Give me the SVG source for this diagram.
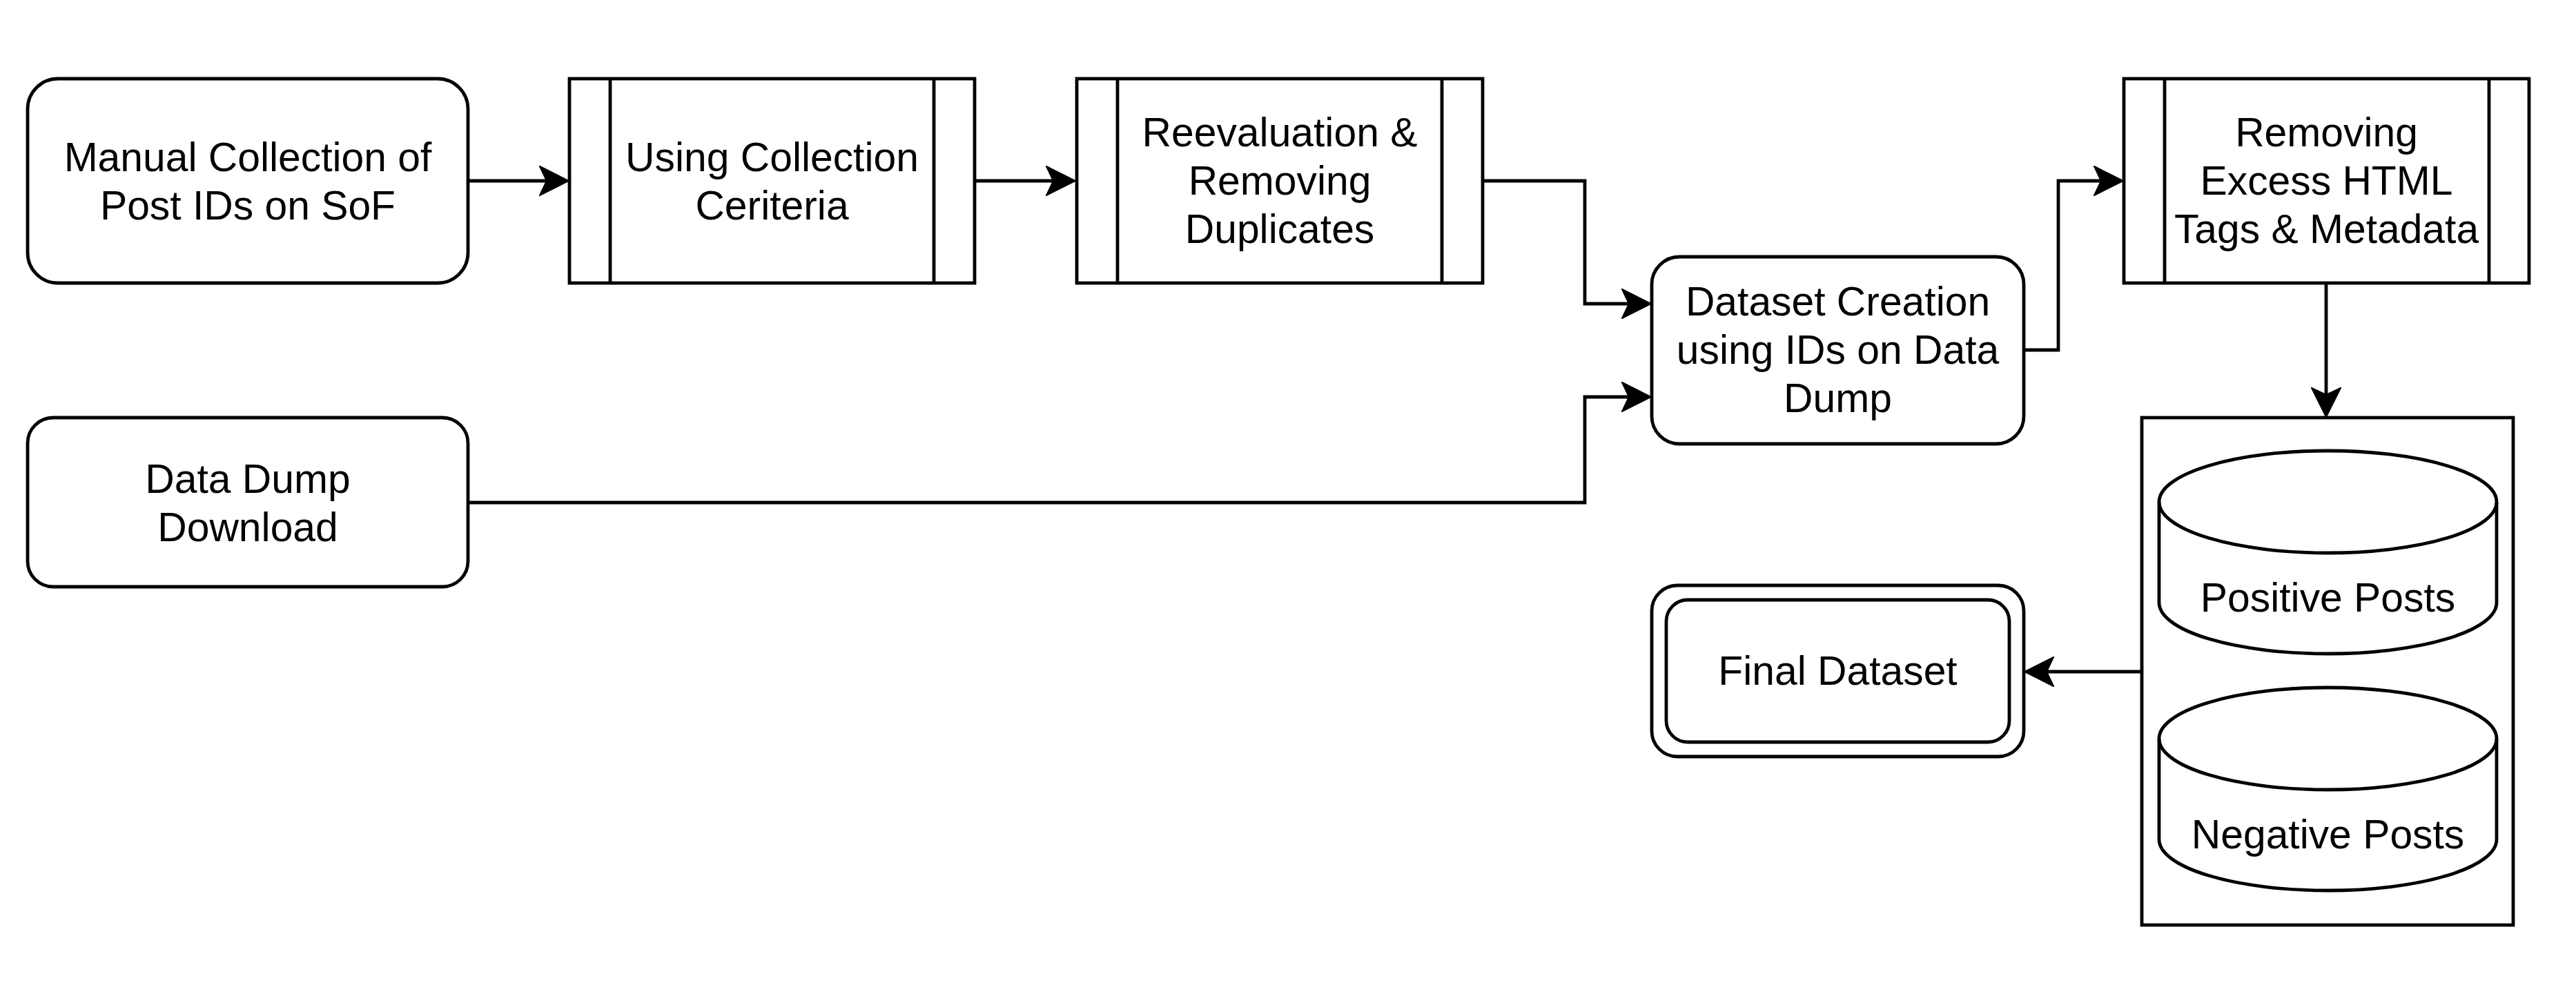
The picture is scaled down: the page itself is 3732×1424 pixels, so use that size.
<svg xmlns="http://www.w3.org/2000/svg" width="3732" height="1424" viewBox="0 0 3732 1424">
<style>
.s{fill:#fff;stroke:#000;stroke-width:4.8}
.l{fill:none;stroke:#000;stroke-width:4.8}
.c{fill:none;stroke:#000;stroke-width:4.8;stroke-linejoin:miter}
text{font-family:"Liberation Sans",Arial,Helvetica,sans-serif;font-size:58.8px;fill:#000;text-anchor:middle}
</style>
<defs>
<marker id="arr" markerUnits="userSpaceOnUse" viewBox="0 0 44 44" refX="11" refY="22" markerWidth="44" markerHeight="44" orient="auto">
<path d="M1,1 L43,22 L1,43 L11,22 Z" fill="#000" stroke="#000" stroke-width="2"/>
</marker>
</defs>
<rect width="3732" height="1424" fill="#fff"/>
<g id="connectors">
<path class="c" d="M678,262 H792" marker-end="url(#arr)"/>
<path class="c" d="M1412,262 H1526" marker-end="url(#arr)"/>
<path class="c" d="M2148,262 H2296 V440 H2360" marker-end="url(#arr)"/>
<path class="c" d="M678,728 H2296 V575 H2360" marker-end="url(#arr)"/>
<path class="c" d="M2932,507 H2982 V262 H3044" marker-end="url(#arr)"/>
<path class="c" d="M3370,410 V572" marker-end="url(#arr)"/>
<path class="c" d="M3103,973 H2965" marker-end="url(#arr)"/>
</g>
<g id="manual">
<rect class="s" x="40" y="114" width="638" height="296" rx="44" ry="44"/>
<text x="359" y="248">Manual Collection of</text>
<text x="359" y="318">Post IDs on SoF</text>
</g>
<g id="criteria">
<rect class="s" x="825" y="114" width="587" height="296"/>
<path class="l" d="M884,114 V410 M1353,114 V410"/>
<text x="1118.5" y="248">Using Collection</text>
<text x="1118.5" y="318">Ceriteria</text>
</g>
<g id="reeval">
<rect class="s" x="1560" y="114" width="588" height="296"/>
<path class="l" d="M1619,114 V410 M2089,114 V410"/>
<text x="1854" y="212">Reevaluation &amp;</text>
<text x="1854" y="282">Removing</text>
<text x="1854" y="352">Duplicates</text>
</g>
<g id="dataset-creation">
<rect class="s" x="2393" y="372" width="539" height="271" rx="40" ry="40"/>
<text x="2662.5" y="457">Dataset Creation</text>
<text x="2662.5" y="527">using IDs on Data</text>
<text x="2662.5" y="597">Dump</text>
</g>
<g id="datadump">
<rect class="s" x="40" y="605" width="638" height="245" rx="37" ry="37"/>
<text x="359" y="714">Data Dump</text>
<text x="359" y="784">Download</text>
</g>
<g id="removing">
<rect class="s" x="3077" y="114" width="587" height="296"/>
<path class="l" d="M3136,114 V410 M3606,114 V410"/>
<text x="3370.5" y="212">Removing</text>
<text x="3370.5" y="282">Excess HTML</text>
<text x="3370.5" y="352">Tags &amp; Metadata</text>
</g>
<g id="container">
<rect class="s" x="3103" y="605" width="538" height="735"/>
</g>
<g id="positive">
<path class="s" d="M3128,727 A244.5,74 0 0 1 3617,727 V873 A244.5,74 0 0 1 3128,873 Z"/>
<path class="l" d="M3128,727 A244.5,74 0 0 0 3617,727"/>
<text x="3372.5" y="886">Positive Posts</text>
</g>
<g id="negative">
<path class="s" d="M3128,1070 A244.5,74 0 0 1 3617,1070 V1216 A244.5,74 0 0 1 3128,1216 Z"/>
<path class="l" d="M3128,1070 A244.5,74 0 0 0 3617,1070"/>
<text x="3372.5" y="1229">Negative Posts</text>
</g>
<g id="final">
<rect class="s" x="2393" y="848" width="539" height="248" rx="37" ry="37"/>
<rect class="s" x="2414" y="869" width="497" height="206" rx="31" ry="31"/>
<text x="2662.5" y="992">Final Dataset</text>
</g>
</svg>
